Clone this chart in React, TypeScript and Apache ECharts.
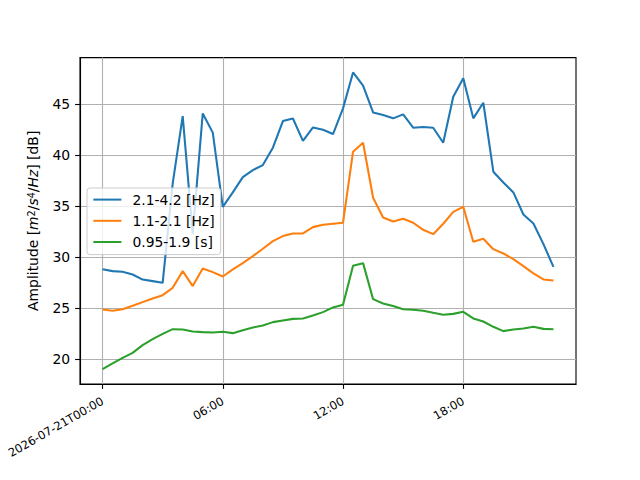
import React, { useEffect, useRef } from "react";
import * as echarts from "echarts";

// Hours since 2026-07-21T00:00 (30-minute samples)
const hours = [
  0, 0.5, 1, 1.5, 2, 2.5, 3, 3.5, 4, 4.5, 5, 5.5, 6, 6.5, 7, 7.5, 8, 8.5, 9, 9.5,
  10, 10.5, 11, 11.5, 12, 12.5, 13, 13.5, 14, 14.5, 15, 15.5, 16, 16.5, 17, 17.5,
  18, 18.5, 19, 19.5, 20, 20.5, 21, 21.5, 22, 22.5,
];

const band21to42Hz = [
  28.82, 28.63, 28.56, 28.3, 27.8, 27.65, 27.48, 37.2, 43.82, 32.3, 44.08, 42.2,
  34.93, 36.34, 37.84, 38.53, 39.02, 40.72, 43.33, 43.59, 41.4, 42.71, 42.48, 42.06,
  44.58, 48.1, 46.8, 44.18, 43.92, 43.6, 43.99, 42.68, 42.75, 42.68, 41.21, 45.72,
  47.52, 43.6, 45.13, 38.37, 37.32, 36.34, 34.18, 33.3, 31.27, 29.05,
];

const band11to21Hz = [
  24.87, 24.74, 24.9, 25.23, 25.59, 25.95, 26.27, 26.99, 28.63, 27.16, 28.89, 28.53,
  28.1, 28.79, 29.41, 30.1, 30.82, 31.57, 32.06, 32.32, 32.32, 32.94, 33.17, 33.27,
  33.37, 40.33, 41.21, 35.82, 33.89, 33.5, 33.76, 33.37, 32.68, 32.25, 33.27, 34.44,
  34.93, 31.5, 31.8, 30.78, 30.36, 29.8, 29.12, 28.4, 27.81, 27.71,
];

const band095to19s = [
  19.02, 19.58, 20.13, 20.62, 21.37, 21.96, 22.48, 22.94, 22.91, 22.71, 22.65, 22.61,
  22.68, 22.55, 22.84, 23.1, 23.3, 23.63, 23.79, 23.95, 23.99, 24.28, 24.61, 25.07,
  25.33, 29.15, 29.41, 25.88, 25.46, 25.2, 24.9, 24.84, 24.74, 24.54, 24.35, 24.44,
  24.64, 23.99, 23.69, 23.17, 22.75, 22.91, 23.0, 23.17, 22.97, 22.94,
];

const seriesNames = ["2.1-4.2 [Hz]", "1.1-2.1 [Hz]", "0.95-1.9 [s]"];
const seriesValues = [band21to42Hz, band11to21Hz, band095to19s];
const seriesColors = ["#1f77b4", "#ff7f0e", "#2ca02c"];

const xTickValues = [0, 6, 12, 18];
const xTickLabels = ["2026-07-21T00:00", "06:00", "12:00", "18:00"];
const yTickValues = [20, 25, 30, 35, 40, 45];

const FONT = "DejaVu Sans";

function paddedRange(values: number[]): [number, number] {
  const lo = Math.min(...values);
  const hi = Math.max(...values);
  const pad = (hi - lo) * 0.05;
  return [lo - pad, hi + pad];
}

export default function App() {
  const ref = useRef<HTMLDivElement>(null);

  useEffect(() => {
    document.body.style.margin = "0";
    if (!ref.current) return;
    const chart = echarts.init(ref.current, undefined, { renderer: "svg" });

    const [xMin, xMax] = paddedRange(hours);
    const [yMin, yMax] = paddedRange(seriesValues.flat());

    const option: any = {
      animation: false,
      backgroundColor: "#ffffff",
      textStyle: { fontFamily: FONT },
      grid: {
        left: 80,
        right: 64,
        top: 57.6,
        bottom: 96,
        show: true,
        borderColor: "#000000",
        borderWidth: 1.1,
        backgroundColor: "transparent",
        containLabel: false,
      },
      legend: {
        orient: "vertical",
        left: 87,
        top: 188,
        padding: [4.6, 6, 5.6, 5.4],
        itemWidth: 28,
        itemHeight: 14,
        itemGap: 7.2,
        backgroundColor: "rgba(255,255,255,0.8)",
        borderColor: "#cccccc",
        borderWidth: 1,
        borderRadius: 3,
        itemStyle: { opacity: 0 },
        textStyle: {
          fontFamily: FONT,
          fontSize: 13.9,
          color: "#000000",
          padding: [0, 0, 0, 6],
        },
        data: seriesNames,
      },
      xAxis: {
        type: "value",
        min: xMin,
        max: xMax,
        axisLine: { show: true, onZero: false, lineStyle: { color: "#000", width: 1.1 } },
        axisTick: {
          show: true,
          length: 4.9,
          customValues: xTickValues,
          lineStyle: { color: "#000", width: 1.1 },
        },
        axisLabel: {
          customValues: xTickValues,
          rotate: 30,
          margin: 16,
          fontFamily: FONT,
          fontSize: 11.6,
          color: "#000",
          formatter: (v: number) => {
            const idx = xTickValues.indexOf(v);
            return idx >= 0 ? xTickLabels[idx] : "";
          },
        },
        splitLine: { show: true, lineStyle: { color: "#b0b0b0", width: 1.1 } },
      },
      yAxis: {
        type: "value",
        min: yMin,
        max: yMax,
        name: "Amplitude [{i|m}{s|2}/{i|s}{s|4}/{i|Hz}] [dB]",
        nameLocation: "middle",
        nameRotate: 90,
        nameGap: 40,
        nameTextStyle: {
          fontFamily: FONT,
          fontSize: 13.9,
          color: "#000",
          rich: {
            i: { fontFamily: FONT, fontSize: 13.9, fontStyle: "italic", color: "#000" },
            s: { fontFamily: FONT, fontSize: 9.7, verticalAlign: "top", color: "#000" },
          },
        },
        axisLine: { show: true, onZero: false, lineStyle: { color: "#000", width: 1.1 } },
        axisTick: {
          show: true,
          length: 4.9,
          customValues: yTickValues,
          lineStyle: { color: "#000", width: 1.1 },
        },
        axisLabel: {
          customValues: yTickValues,
          margin: 9.8,
          fontFamily: FONT,
          fontSize: 13.9,
          color: "#000",
        },
        splitLine: { show: true, lineStyle: { color: "#b0b0b0", width: 1.1 } },
      },
      series: seriesNames.map((name, k) => ({
        name,
        type: "line",
        symbol: "none",
        color: seriesColors[k],
        lineStyle: { color: seriesColors[k], width: 2.08 },
        data: hours.map((h, i) => [h, seriesValues[k][i]]),
        z: 3 + k,
      })),
    };

    chart.setOption(option);
    return () => chart.dispose();
  }, []);

  return <div ref={ref} style={{ width: 640, height: 480 }} />;
}
